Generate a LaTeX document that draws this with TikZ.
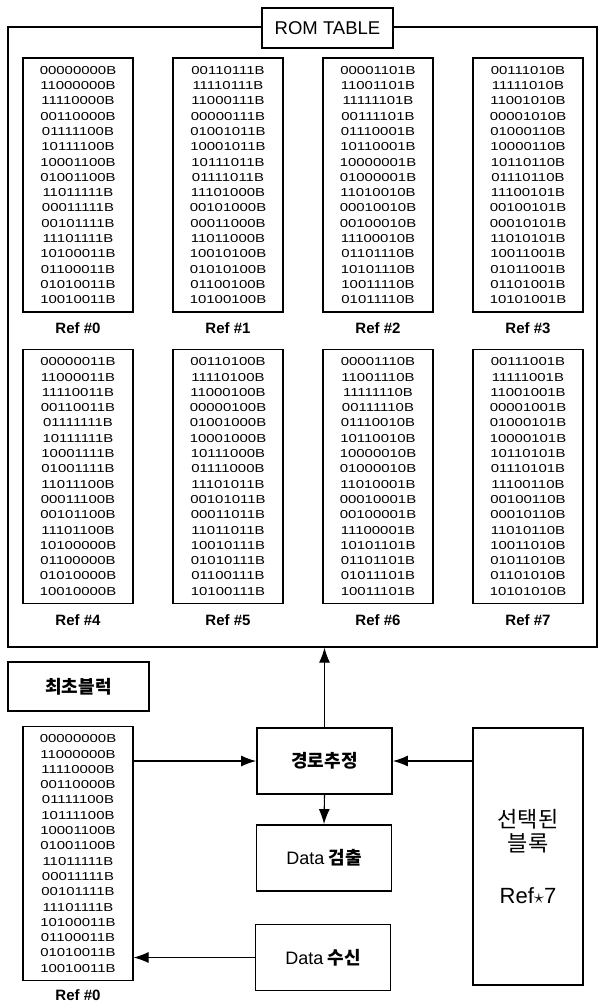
\documentclass[tikz,border=0pt]{standalone}
\usepackage{fontspec}
\setmainfont{Liberation Sans}
\newfontfamily\kor{Noto Sans CJK KR}
\newfontfamily\bitfont[FakeStretch=1.3]{Liberation Sans}
\usetikzlibrary{arrows.meta}
\usetikzlibrary{positioning}

\newcommand{\refzero}{00000000B\\11000000B\\11110000B\\00110000B\\01111100B\\10111100B\\10001100B\\01001100B\\11011111B\\00011111B\\00101111B\\11101111B\\10100011B\\01100011B\\01010011B\\10010011B}

\begin{document}
\begin{tikzpicture}[
    x=1pt, y=-1pt,
    romblock/.style={
      draw=black,
      line width=1.1pt,
      minimum width=110pt,
      minimum height=254pt,
      inner sep=0pt,
      align=center,
      font=\bitfont\fontsize{11.5}{15.3}\selectfont
    },
    reflabel/.style={
      font=\bfseries\fontsize{15}{18}\selectfont,
      inner sep=1pt
    },
    procbox/.style={
      draw=black,
      line width=1.8pt,
      minimum width=135pt,
      minimum height=66pt,
      font=\kor\bfseries\fontsize{18}{20}\selectfont
    },
    arr/.style={
      line width=1.1pt,
      -{Latex[length=15pt, width=11pt]}
    }
  ]

  \useasboundingbox (0,0) rectangle (599,1005);

  % ROM table frame
  \node[draw, line width=1.3pt, minimum width=589pt, minimum height=620pt, inner sep=0pt] (frame) at (302.5,337) {};
  \node[draw, line width=1.3pt, fill=white, minimum width=131pt, minimum height=40pt,
        font=\fontsize{18.5}{20}\selectfont] (rom) at (327.5,28) {ROM TABLE};

  % first row
  \node[romblock] (R0) at (78,185) {\refzero};
  \node[reflabel, below=9pt of R0] (L0) {Ref \#0};

  \node[romblock] (R1) at (228,185) {00110111B\\11110111B\\11000111B\\00000111B\\01001011B\\10001011B\\10111011B\\01111011B\\11101000B\\00101000B\\00011000B\\11011000B\\10010100B\\01010100B\\01100100B\\10100100B};
  \node[reflabel, below=9pt of R1] (L1) {Ref \#1};

  \node[romblock] (R2) at (378,185) {00001101B\\11001101B\\11111101B\\00111101B\\01110001B\\10110001B\\10000001B\\01000001B\\11010010B\\00010010B\\00100010B\\11100010B\\01101110B\\10101110B\\10011110B\\01011110B};
  \node[reflabel, below=9pt of R2] (L2) {Ref \#2};

  \node[romblock] (R3) at (528,185) {00111010B\\11111010B\\11001010B\\00001010B\\01000110B\\10000110B\\10110110B\\01110110B\\11100101B\\00100101B\\00010101B\\11010101B\\10011001B\\01011001B\\01101001B\\10101001B};
  \node[reflabel, below=9pt of R3] (L3) {Ref \#3};

  % second row
  \node[romblock] (R4) at (78,476.5) {00000011B\\11000011B\\11110011B\\00110011B\\01111111B\\10111111B\\10001111B\\01001111B\\11011100B\\00011100B\\00101100B\\11101100B\\10100000B\\01100000B\\01010000B\\10010000B};
  \node[reflabel, below=9pt of R4] (L4) {Ref \#4};

  \node[romblock] (R5) at (228,476.5) {00110100B\\11110100B\\11000100B\\00000100B\\01001000B\\10001000B\\10111000B\\01111000B\\11101011B\\00101011B\\00011011B\\11011011B\\10010111B\\01010111B\\01100111B\\10100111B};
  \node[reflabel, below=9pt of R5] (L5) {Ref \#5};

  \node[romblock] (R6) at (378,476.5) {00001110B\\11001110B\\11111110B\\00111110B\\01110010B\\10110010B\\10000010B\\01000010B\\11010001B\\00010001B\\00100001B\\11100001B\\10101101B\\01101101B\\01011101B\\10011101B};
  \node[reflabel, below=9pt of R6] (L6) {Ref \#6};

  \node[romblock] (R7) at (528,476.5) {00111001B\\11111001B\\11001001B\\00001001B\\01000101B\\10000101B\\10110101B\\01110101B\\11100110B\\00100110B\\00010110B\\11010110B\\10011010B\\01011010B\\01101010B\\10101010B};
  \node[reflabel, below=9pt of R7] (L7) {Ref \#7};

  % lower part
  \node[draw, line width=1.5pt, minimum width=141pt, minimum height=49pt,
        font=\kor\bfseries\fontsize{18}{20}\selectfont] (first) at (78.5,686.5) {최초블럭};

  \node[romblock] (blk) at (78,853.5) {\refzero};
  \node[reflabel, below=7pt of blk] (Lb) {Ref \#0};

  \node[procbox] (trace) at (324.5,761) {경로추정};
  \node[procbox] (detect) at (324,858) {{\rmfamily\mdseries Data} 검출};
  \node[procbox] (recv) at (323,957.5) {{\rmfamily\mdseries Data} 수신};

  \node[draw, line width=1.5pt, minimum width=110pt, minimum height=257pt, align=center,
        font=\kor\fontsize{22}{24.5}\selectfont] (sel) at (528,856.5) {선택된\\블록\\[27pt]{\rmfamily Ref$\star$7}};

  \draw[arr] (blk.east |- trace.west) -- (trace.west);
  \draw[arr] (sel.west |- trace.east) -- (trace.east);
  \draw[arr] (trace.north) -- (trace.north |- frame.south);
  \draw[arr] (trace.south) -- (detect.north);
  \draw[arr] (recv.west) -- (recv.west -| blk.east);

\end{tikzpicture}
\end{document}
